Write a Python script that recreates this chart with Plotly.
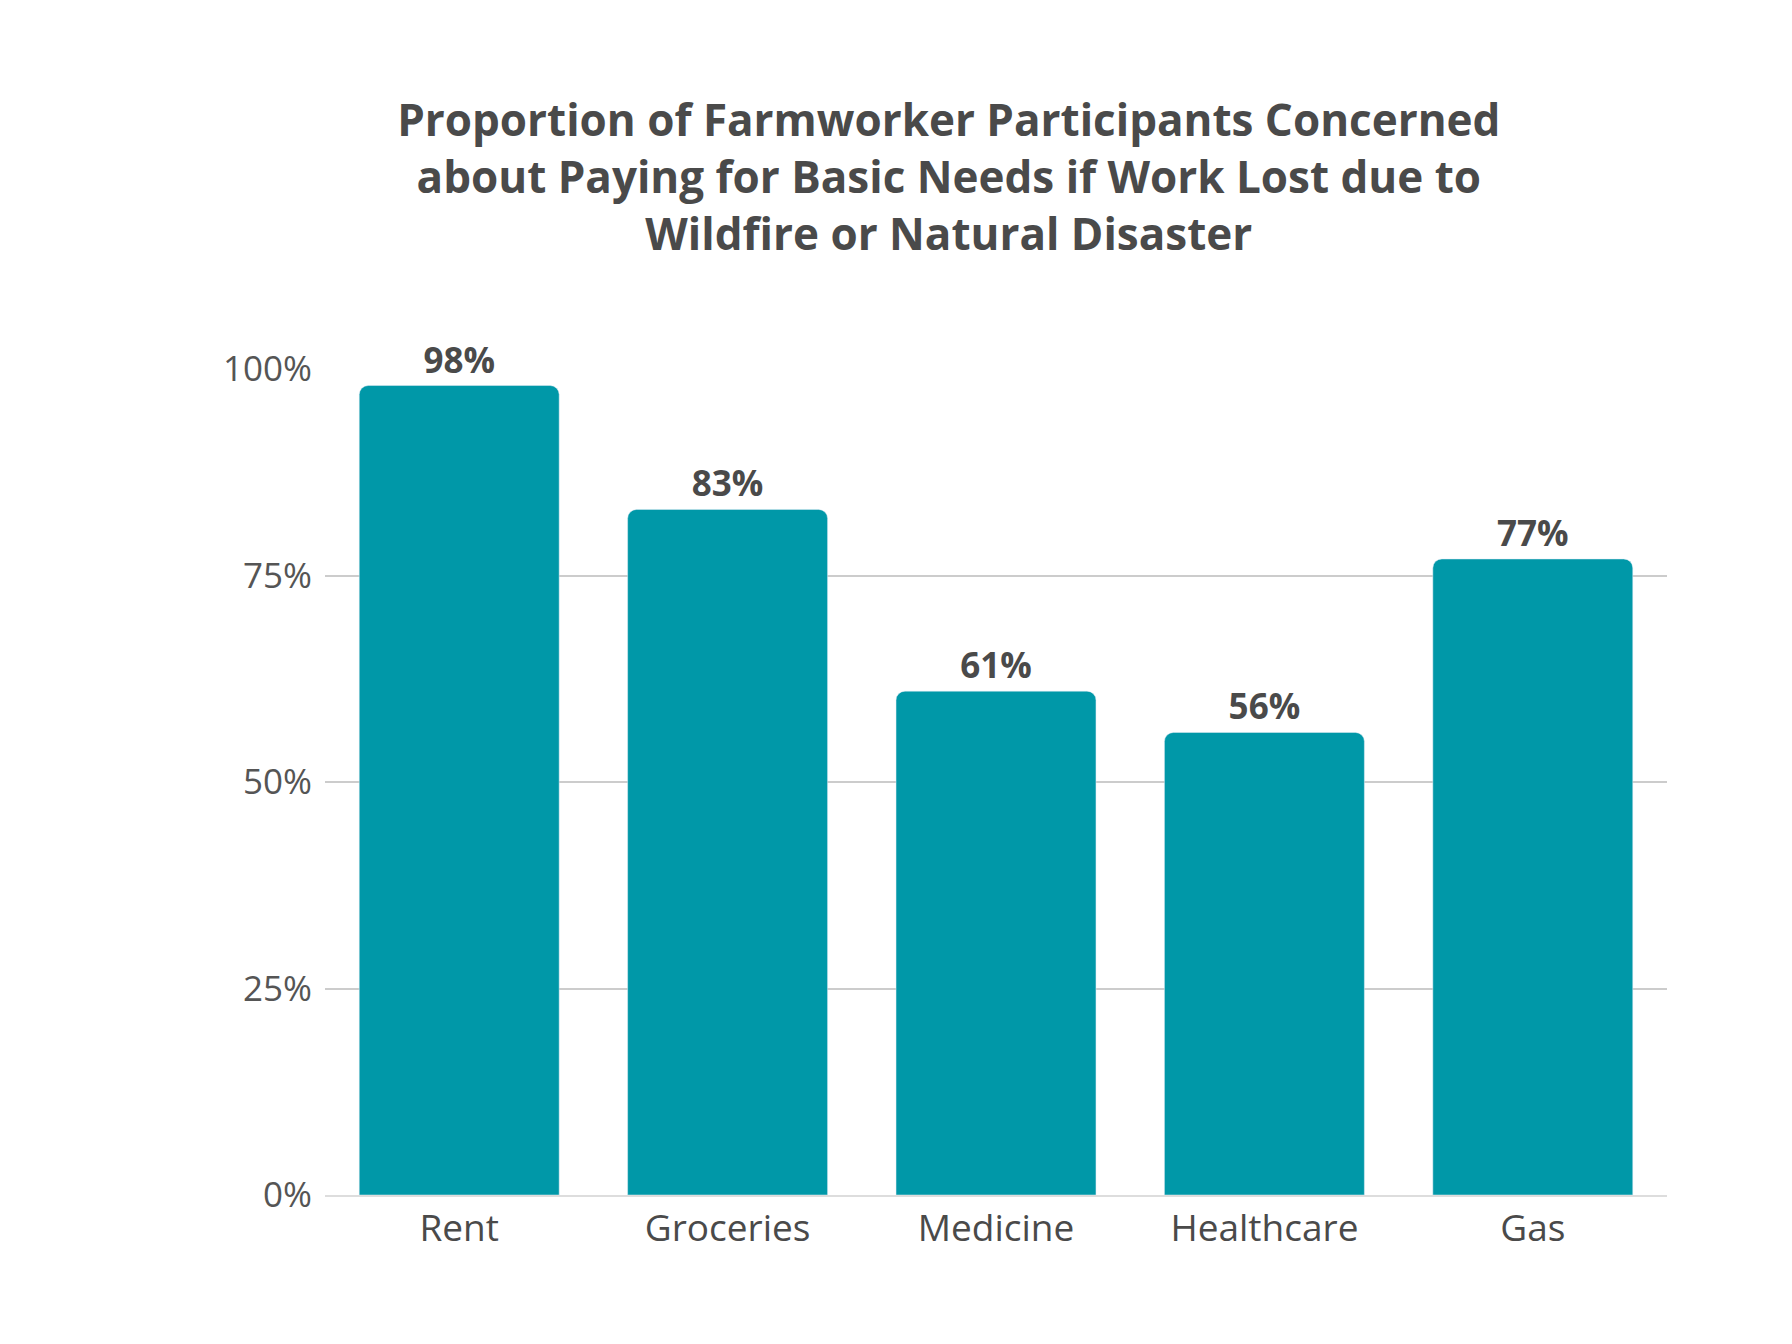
import plotly.graph_objects as go

categories = ["Rent", "Groceries", "Medicine", "Healthcare", "Gas"]
values = [98, 83, 61, 56, 77]
labels = ["98%", "83%", "61%", "56%", "77%"]
tick_vals = [0, 25, 50, 75, 100]
tick_text = ["0%", "25%", "50%", "75%", "100%"]

fig = go.Figure(
    go.Bar(
        x=categories,
        y=values,
        text=labels,
        textposition="outside",
        cliponaxis=False,
        marker_color="#0098a8",
        textfont=dict(family="Open Sans", size=35, color="#4a4a4a", weight="bold"),
    )
)

fig.update_layout(
    width=1792,
    height=1344,
    paper_bgcolor="white",
    plot_bgcolor="white",
    margin=dict(l=317, r=133, t=361, b=157),
    bargap=0.255,
    barcornerradius=9,
    showlegend=False,
    title=dict(
        text="Proportion of Farmworker Participants Concerned<br>"
        "about Paying for Basic Needs if Work Lost due to<br>"
        "Wildfire or Natural Disaster",
        x=0.525,
        xanchor="center",
        y=0.905,
        yanchor="top",
        font=dict(family="Open Sans", size=44, color="#4a4a4a", weight="bold"),
    ),
)

fig.update_yaxes(
    range=[0, 100],
    tickvals=tick_vals,
    ticktext=tick_text,
    showgrid=True,
    gridcolor="#cccccc",
    gridwidth=1.5,
    zeroline=False,
    tickfont=dict(family="Open Sans", size=35, color="#555555"),
    ticklabelstandoff=12,
)
fig.update_xaxes(
    showline=True,
    linecolor="#dddddd",
    linewidth=1.5,
    tickfont=dict(family="Open Sans", size=37, color="#4a4a4a"),
)

fig.write_html("out.html")
